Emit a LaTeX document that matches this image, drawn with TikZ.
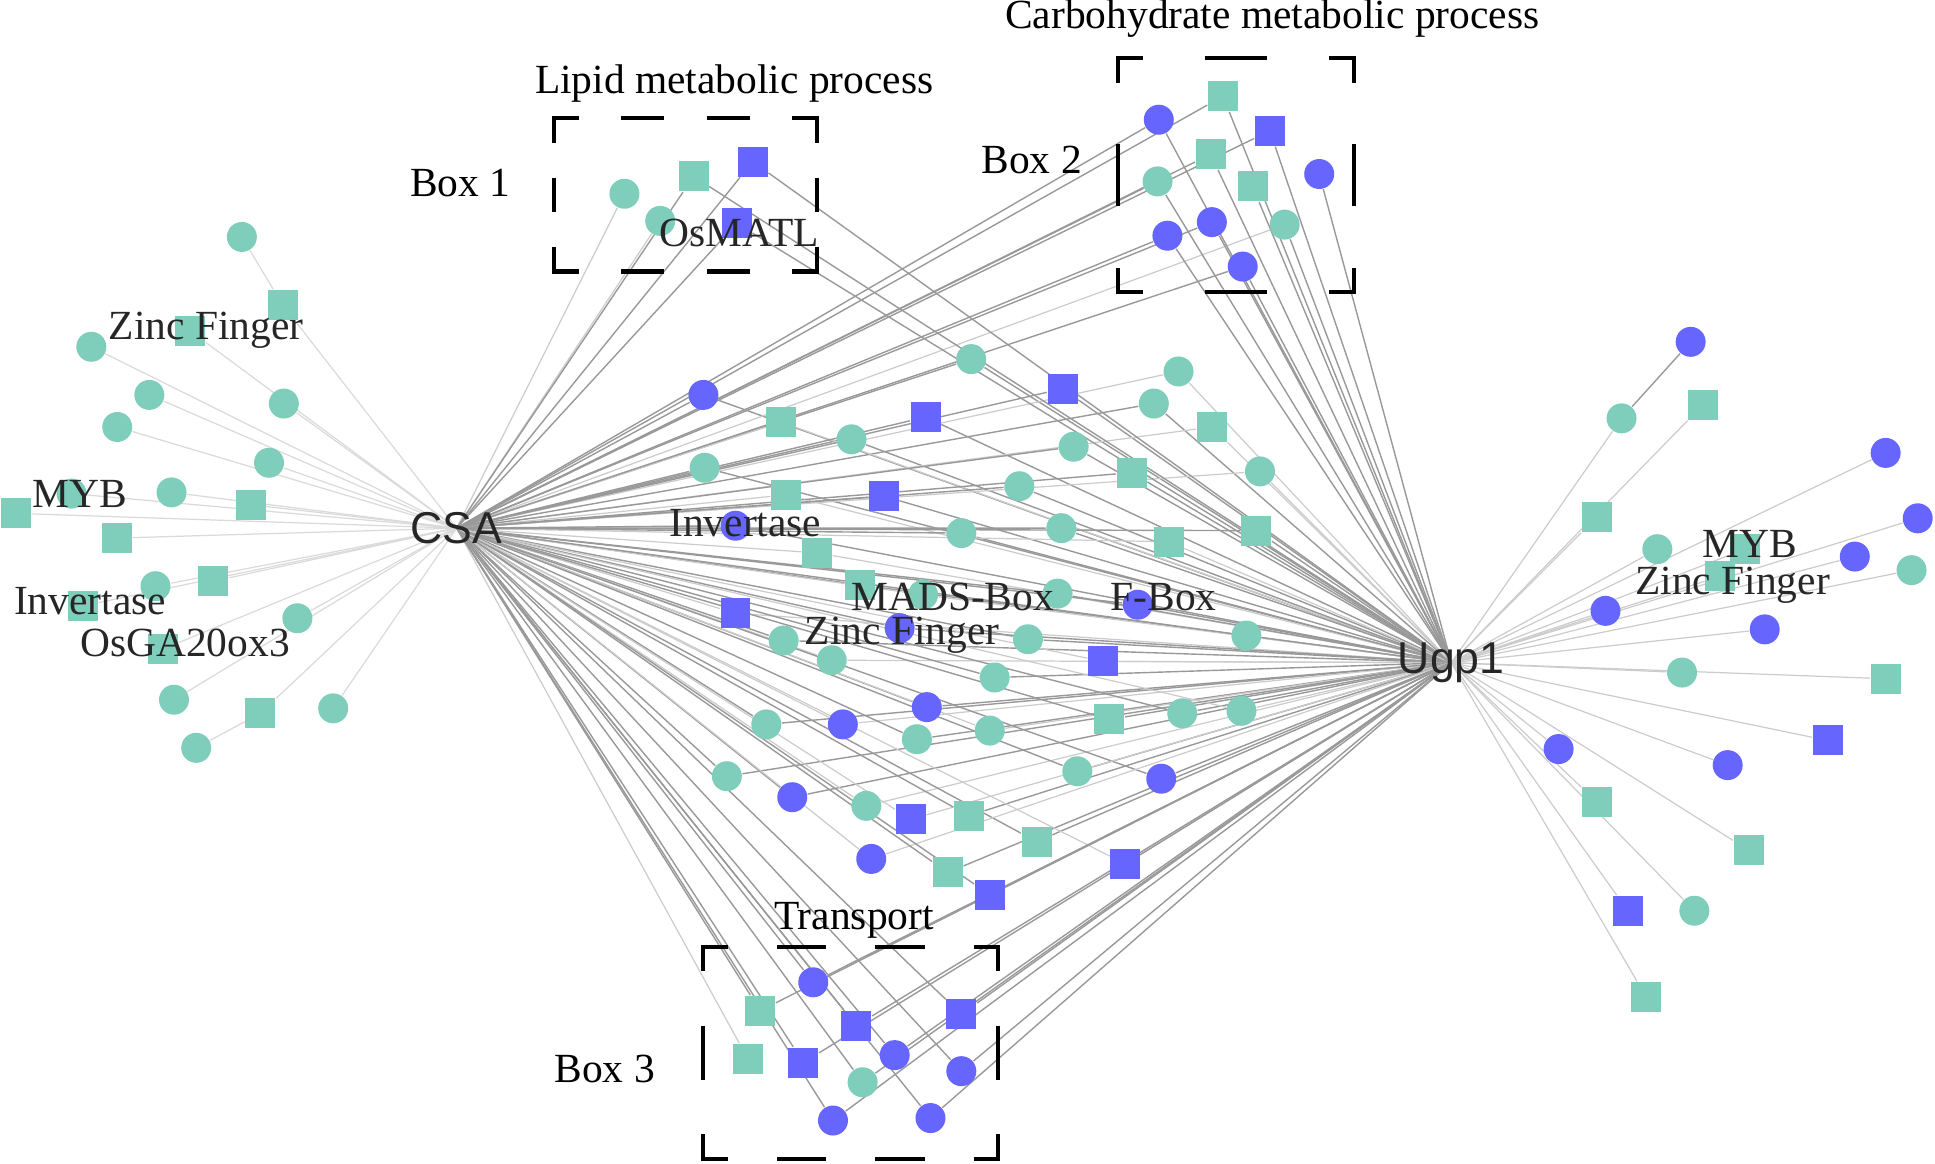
\documentclass[tikz,border=0pt]{standalone}
\usepackage{fontspec}
\setmainfont{Liberation Serif}
\setsansfont{Liberation Sans}
\usetikzlibrary{backgrounds}

\definecolor{nodegreen}{HTML}{7FCDBB}
\definecolor{nodeblue}{HTML}{6666FF}
\definecolor{linkdark}{HTML}{999999}
\definecolor{linkfaint}{HTML}{CCCCCC}
\definecolor{linkpale}{HTML}{DADADA}
\definecolor{labelgray}{HTML}{262626}

\tikzset{
  greencirc/.style={circle, fill=nodegreen, minimum size=0.3cm, inner sep=0pt},
  greensq/.style={rectangle, fill=nodegreen, minimum size=0.3cm, inner sep=0pt},
  bluecirc/.style={circle, fill=nodeblue, minimum size=0.3cm, inner sep=0pt},
  bluesq/.style={rectangle, fill=nodeblue, minimum size=0.3cm, inner sep=0pt},
  hub/.style={font=\sffamily\fontsize{12.7}{15}\selectfont, text=labelgray, inner sep=0pt},
  tag/.style={font=\fontsize{11.8}{14}\selectfont, text=labelgray, inner sep=0pt},
  title/.style={font=\fontsize{11.8}{14}\selectfont, text=black, inner sep=0pt},
  edgedark/.style={draw=linkdark, line width=0.4pt},
  edgefaint/.style={draw=linkfaint, line width=0.35pt},
  edgepale/.style={draw=linkpale, line width=0.35pt},
  boxline/.style={draw=black, line width=1.15pt, line join=miter}
}

% dashed frame: corners (#1,#2) (#3,#4), #5 dashes across, #6 dashes down
\newcommand{\markbox}[6]{%
  \pgfmathsetmacro\gx{(#3-#1-40)/(2*#5+1)}
  \pgfmathsetmacro\gy{(#4-#2-40)/(2*#6+1)}
  \draw[boxline] (#1+20,#2) -| (#1,#2+20) (#3-20,#2) -| (#3,#2+20)
                 (#1+20,#4) -| (#1,#4-20) (#3-20,#4) -| (#3,#4-20);
  \foreach \i in {1,...,#5}
    \draw[boxline] ({#1+20+(2*\i-1)*\gx},#2) -- ++(\gx,0)
                   ({#1+20+(2*\i-1)*\gx},#4) -- ++(\gx,0);
  \foreach \i in {1,...,#6}
    \draw[boxline] (#1,{#2+20+(2*\i-1)*\gy}) -- ++(0,\gy)
                   (#3,{#2+20+(2*\i-1)*\gy}) -- ++(0,\gy);
}

\begin{document}
\begin{tikzpicture}[x=0.01234cm, y=-0.01234cm]
\useasboundingbox (0,0) rectangle (1568,943);

% hubs
\node[hub] (CSA) at (370,428) {CSA};
\node[hub] (Ugp1) at (1176,537) {Ugp1};

% left fan of CSA
\foreach \n/\s/\x/\y in {L1/greencirc/196/192, L2/greensq/229/247, L3/greensq/154/268,
  L4/greencirc/74/281, L5/greencirc/121/320, L6/greencirc/230/327, L7/greencirc/95/346,
  L8/greencirc/218/375, L9/greencirc/139/399, L10/greensq/203/409, L11/greensq/13/416,
  L12/greencirc/58/400, L13/greensq/95/436, L14/greensq/173/471, L15/greencirc/126/475,
  L16/greensq/67/491, L17/greencirc/241/501, L18/greensq/132/526, L19/greencirc/141/567,
  L20/greensq/211/578, L21/greencirc/270/574, L22/greencirc/159/606}
  \node[\s] (\n) at (\x,\y) {};

% shared targets between the hubs
\foreach \n/\s/\x/\y in {M1/greencirc/787/291, M2/bluesq/861/315, M3/greencirc/955/301,
  M4/greencirc/935/327, M5/bluecirc/570/320, M6/greensq/633/342, M7/bluesq/750/338,
  M8/greencirc/690/356, M9/greensq/982/346, M10/greencirc/870/362, M11/greencirc/571/379,
  M12/greensq/637/401, M13/bluesq/716/402, M14/greensq/917/383, M15/greencirc/1021/382,
  M16/greencirc/826/394, M17/bluecirc/596/426, M18/greensq/662/448, M19/greencirc/779/432,
  M20/greencirc/860/428, M21/greensq/947/439, M22/greensq/1018/430, M23/greensq/697/474,
  M24/greencirc/748/482, M25/greencirc/857/481, M26/bluecirc/922/490, M27/bluesq/596/497,
  M28/bluecirc/729/509, M29/greencirc/635/519, M30/greencirc/674/535, M31/greencirc/833/518,
  M32/greencirc/1010/515, M33/bluesq/894/536, M34/greencirc/806/549, M35/greencirc/621/587,
  M36/bluecirc/683/587, M37/bluecirc/751/573, M38/greencirc/743/599, M39/greencirc/802/592,
  M40/greensq/899/583, M41/greencirc/958/578, M42/greencirc/1006/576, M43/greencirc/589/629,
  M44/bluecirc/642/646, M45/greencirc/702/653, M46/greencirc/873/625, M47/bluecirc/941/631,
  M48/bluesq/738/664, M49/greensq/785/661, M50/greensq/840/682, M51/bluecirc/706/696,
  M52/greensq/768/707, M53/bluesq/802/725, M54/bluesq/912/700}
  \node[\s] (\n) at (\x,\y) {};

% box 1
\foreach \n/\s/\x/\y in {B1a/greencirc/506/157, B1b/greensq/562/143, B1c/bluesq/610/131,
  B1d/greencirc/535/179, B1e/bluesq/597/181}
  \node[\s] (\n) at (\x,\y) {};

% box 2
\foreach \n/\s/\x/\y in {B2a/bluecirc/939/97, B2b/greensq/991/78, B2c/bluesq/1029/106,
  B2d/greensq/981/125, B2e/greencirc/938/147, B2f/greensq/1015/151, B2g/bluecirc/1069/141,
  B2h/bluecirc/982/180, B2i/bluecirc/946/191, B2j/greencirc/1041/182, B2k/bluecirc/1007/216}
  \node[\s] (\n) at (\x,\y) {};

% box 3
\foreach \n/\s/\x/\y in {B3a/bluecirc/659/796, B3b/greensq/616/819, B3c/bluesq/694/831,
  B3d/bluesq/779/822, B3e/greensq/606/858, B3f/bluesq/651/861, B3g/bluecirc/725/855,
  B3h/bluecirc/779/868, B3i/greencirc/699/877, B3j/bluecirc/675/908, B3k/bluecirc/754/906}
  \node[\s] (\n) at (\x,\y) {};

% right fan of Ugp1
\foreach \n/\s/\x/\y in {R1/bluecirc/1370/277, R2/greencirc/1314/339, R3/greensq/1380/328,
  R4/greensq/1294/419, R5/bluecirc/1528/367, R6/bluecirc/1554/420, R7/greencirc/1343/445,
  R8/greensq/1414/445, R9/greensq/1394/467, R10/bluecirc/1503/451, R11/greencirc/1549/462,
  R12/bluecirc/1301/495, R13/bluecirc/1430/510, R14/greencirc/1363/545, R15/greensq/1528/550,
  R16/bluesq/1481/600, R17/bluecirc/1263/607, R18/bluecirc/1400/620, R19/greensq/1294/650,
  R20/greensq/1417/689, R21/bluesq/1319/738, R22/greencirc/1373/738, R23/greensq/1334/808}
  \node[\s] (\n) at (\x,\y) {};

\begin{pgfonlayer}{background}
  \foreach \i in {2,...,21} \draw[edgepale] (CSA.center) -- (L\i);
  \draw[edgepale] (L1) -- (L2) (L22) -- (L20);
  \foreach \i in {1,...,54}{
    \pgfmathtruncatemacro\k{mod(\i,3)}
    \ifnum\k=0 \def\ls{edgefaint}\else\def\ls{edgedark}\fi
    \draw[\ls] (CSA.center) -- (M\i) -- (Ugp1.center);
  }
  \foreach \n in {B1a,B1d,B2j,B3e} \draw[edgefaint] (CSA.center) -- (\n);
  \foreach \n in {B1b,B1c,B1e,B2a,B2b,B2c,B2d,B2e,B2h,B2i,B2k,
                  B3a,B3b,B3c,B3d,B3f,B3g,B3h,B3i,B3j,B3k}
    \draw[edgedark] (CSA.center) -- (\n);
  \foreach \n in {B1b,B1c,B1e,B2a,B2b,B2c,B2d,B2e,B2f,B2g,B2h,B2i,B2j,B2k,
                  B3a,B3b,B3c,B3d,B3f,B3g,B3h,B3i,B3j,B3k}
    \draw[edgedark] (\n) -- (Ugp1.center);
  \foreach \i in {2,...,23} \draw[edgefaint] (Ugp1.center) -- (R\i);
  \draw[edgedark] (R1) -- (R2);
\end{pgfonlayer}

% gene family labels
\node[tag] (zfl) at (167,268) {Zinc Finger};
\node[tag] (mybl) at (65,400) {MYB};
\node[tag] (invl) at (73,487) {Invertase};
\node[tag] (gal) at (150,521) {OsGA20ox3};
\node[tag] (matl) at (599,189) {OsMATL};
\node[tag] (invm) at (604,424) {Invertase};
\node[tag] (madsm) at (772,484) {MADS-Box};
\node[tag] (fbm) at (943,484) {F-Box};
\node[tag] (zfm) at (731,515) {Zinc Finger};
\node[tag] (mybr) at (1418,441) {MYB};
\node[tag] (zfr) at (1404,474) {Zinc Finger};

% boxes and their titles
\markbox{449}{96}{662}{220}{2}{1}
\markbox{906}{47}{1097}{237}{1}{1}
\markbox{570}{767}{809}{939}{2}{1}
\node[title] (box1) at (373,148) {Box 1};
\node[title] (box2) at (836,130) {Box 2};
\node[title] (box3) at (490,866) {Box 3};
\node[title] (lipid) at (595,68) {Lipid metabolic process};
\node[title] (carb) at (1031,15) {Carbohydrate metabolic process};
\node[title] (trans) at (692,746) {Transport};
\end{tikzpicture}
\end{document}
